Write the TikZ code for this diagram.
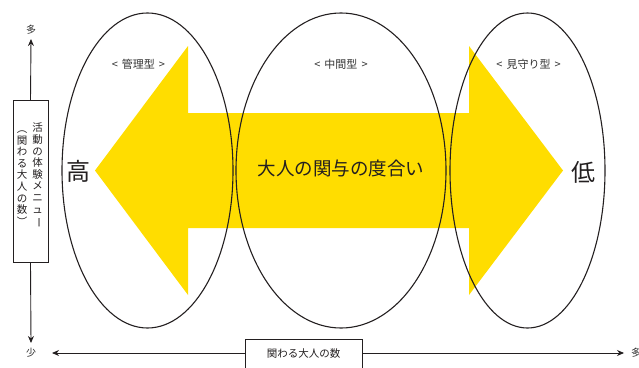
\documentclass[tikz,border=0pt]{standalone}
\usepackage{fontspec}
\setmainfont{Noto Sans CJK JP}
\usetikzlibrary{shapes.geometric,arrows.meta}
\definecolor{arrowyellow}{RGB}{255,221,0}
\definecolor{inkdark}{RGB}{35,31,32}
\definecolor{txtgray}{RGB}{50,50,50}
\newcommand{\vrot}[1]{\rotatebox[origin=c]{-90}{#1}}
\newcommand{\lsp}{\hspace{4pt}}
\begin{document}
\begin{tikzpicture}[x=1pt,y=-1pt,
  ell/.style={ellipse,draw=inkdark,line width=1.1pt,inner sep=0pt,minimum height=315pt},
  typelabel/.style={text=txtgray,font=\fontsize{11}{12}\selectfont,inner sep=0pt},
  bigchar/.style={text=inkdark,font=\fontsize{24}{26}\selectfont,inner sep=0pt},
  axisline/.style={draw=inkdark,line width=0.9pt,-{Stealth[length=7pt,width=6pt]}},
  axisbox/.style={draw=inkdark,line width=0.9pt,fill=white,text=inkdark,font=\fontsize{10.5}{11.3}\selectfont},
  axislabel/.style={text=txtgray,font=\fontsize{10}{12}\selectfont,inner sep=0pt}]
\useasboundingbox (0,0) rectangle (639,367);
% yellow double arrow
\fill[arrowyellow] (95,170.5) -- (188,46) -- (188,113) -- (469,113) -- (469,46)
  -- (563,170.5) -- (469,295) -- (469,228) -- (188,228) -- (188,295) -- cycle;
% ellipses
\node[ell,minimum width=171pt] (eleft) at (147.5,170.5) {};
\node[ell,minimum width=210pt] (emid) at (341,170.5) {};
\node[ell,minimum width=155pt] (eright) at (527.5,170.5) {};
% labels
\node[typelabel] (lkanri) at (138.5,64) {<\lsp 管理型\lsp >};
\node[typelabel] (lchukan) at (341,64) {<\lsp 中間型\lsp >};
\node[typelabel] (lmimamori) at (528.5,64) {<\lsp 見守り型\lsp >};
\node[bigchar] (high) at (78,171) {高};
\node[bigchar] (low) at (583,172) {低};
\node[text=inkdark,font=\fontsize{18.5}{20}\selectfont,inner sep=0pt] (degree) at (341,168) {大人の関与の度合い};
% vertical axis
\node[axisbox,minimum width=35pt,minimum height=162pt,inner sep=0pt] (vbox) at (30.5,181.5) {};
\node[text=inkdark,font=\fontsize{10.5}{11.6}\selectfont,align=center,inner sep=0pt,anchor=north] (vcolr) at (37.5,123)
  {活\\動\\の\\体\\験\\メ\\ニ\\ュ\\\vrot{ー}};
\node[text=inkdark,font=\fontsize{10.5}{11.6}\selectfont,align=center,inner sep=0pt,anchor=north] (vcoll) at (22,123)
  {\vrot{（}\\関\\わ\\る\\大\\人\\の\\数\\\vrot{）}};
\node[axislabel] (vmany) at (31,30) {多};
\node[axislabel] (vfew) at (31,353) {少};
\coordinate (vtop) at (31,39);
\coordinate (vbottom) at (31,343);
\draw[axisline] (vbox.north) -- (vtop);
\draw[axisline] (vbox.south) -- (vbottom);
% horizontal axis
\node[axisbox,minimum width=117pt,minimum height=34pt,inner sep=0pt,text depth=0pt] (hbox) at (303.5,356) {};
\node[text=inkdark,font=\fontsize{10.5}{12}\selectfont,inner sep=0pt] (htext) at (303.5,354) {関わる大人の数};
\coordinate (hleft) at (52,353);
\coordinate (hright) at (624,353);
\draw[axisline] (hbox.west |- hleft) -- (hleft);
\draw[axisline] (hbox.east |- hright) -- (hright);
\node[axislabel,anchor=west] (hmany) at (631,353) {多};
\end{tikzpicture}
\end{document}
